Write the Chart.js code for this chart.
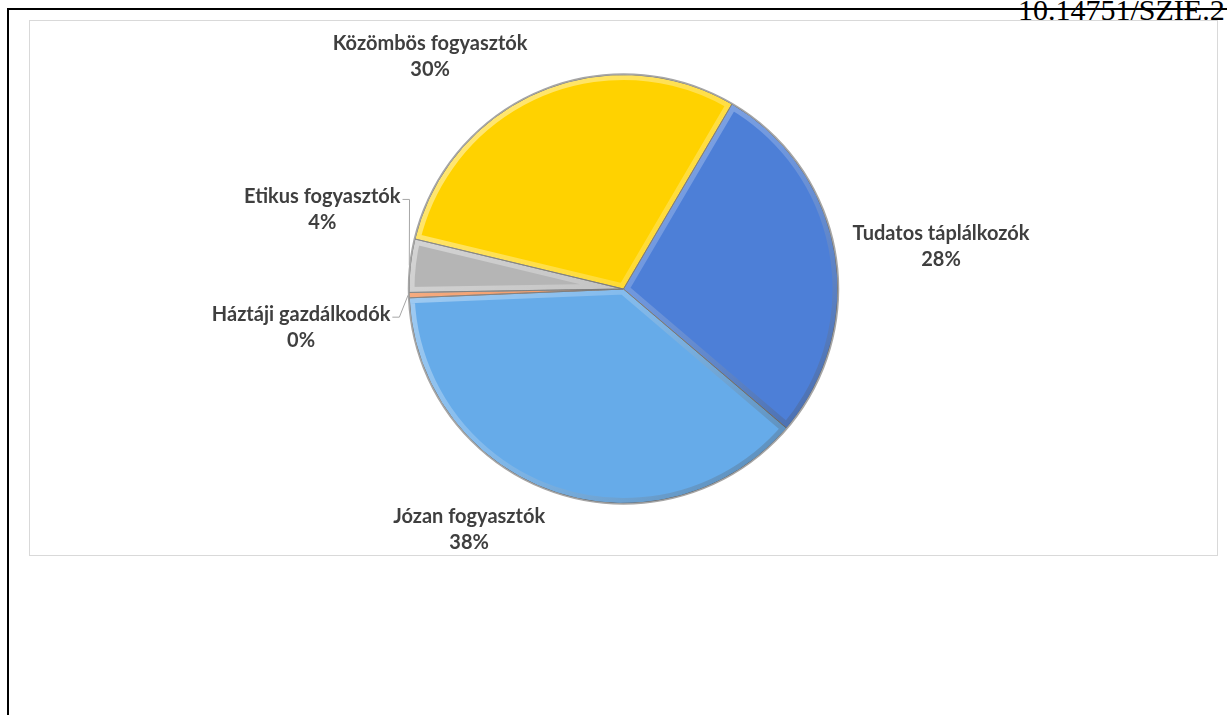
<!DOCTYPE html>
<html lang="hu">
<head>
<meta charset="utf-8">
<title>Fogyasztói csoportok</title>
<script src="https://cdn.jsdelivr.net/npm/chart.js@4.4.1/dist/chart.umd.min.js"></script>
<style>
  html, body { margin: 0; padding: 0; background: #fff; width: 1227px; height: 715px; overflow: hidden; }
  .keret { position: absolute; left: 7px; top: 8px; width: 1240px; height: 720px; border-top: 2px solid #000; border-left: 2px solid #000; }
  .doi { position: absolute; left: 1018px; top: -5px; font-family: "Liberation Serif", "Times New Roman", serif; font-size: 30px; line-height: 30px; white-space: nowrap; color: #000; }
  .doboz { position: absolute; left: 29px; top: 20px; width: 1189px; height: 536px; box-sizing: border-box; border: 1px solid #d9d9d9; background: #fff; }
  .doboz div { position: relative; width: 100%; height: 100%; }
</style>
</head>
<body>
<div class="keret"></div>
<div class="doi">10.14751/SZIE.2</div>
<div class="doboz"><div><canvas id="kordiagram"></canvas></div></div>
<script>
// fogyasztói szegmensek aránya (%)
const kategoriak = ['Tudatos táplálkozók', 'Józan fogyasztók', 'Háztáji gazdálkodók', 'Etikus fogyasztók', 'Közömbös fogyasztók'];
const aranyok = [27.8, 38.1, 0.4, 4.0, 29.7];

const szinek = ['#4d7fd7', '#66abe9', '#f07a35', '#b5b5b5', '#ffd200'];
// címkék helye a körív széléhez képest, és hogy kell-e vezetővonal
const cimkeEltolas = [[105, -7], [-84, 37], [-107, 32], [-87, -56], [-109, -34]];
const vezetovonal = [false, false, true, true, false];

const osszeg = aranyok.reduce((a, b) => a + b, 0);

// domború (bevel) hatás a szeletek szélén
const domborPlugin = {
  id: 'dombor',
  afterDatasetsDraw(chart) {
    const ctx = chart.ctx;
    let kx = 0, ky = 0, kr = 0;
    chart.getDatasetMeta(0).data.forEach(arc => {
      const p = arc.getProps(['x', 'y', 'startAngle', 'endAngle', 'outerRadius'], true);
      kx = p.x; ky = p.y; kr = p.outerRadius;
      ctx.save();
      ctx.beginPath();
      ctx.moveTo(p.x, p.y);
      ctx.arc(p.x, p.y, p.outerRadius, p.startAngle, p.endAngle);
      ctx.closePath();
      ctx.clip();
      const g = ctx.createLinearGradient(p.x - p.outerRadius, p.y - p.outerRadius, p.x + p.outerRadius, p.y + p.outerRadius);
      g.addColorStop(0, 'rgba(255,255,255,0.55)');
      g.addColorStop(0.5, 'rgba(255,255,255,0.2)');
      g.addColorStop(1, 'rgba(0,0,0,0.28)');
      ctx.lineWidth = 11;
      ctx.strokeStyle = g;
      ctx.stroke();
      ctx.lineWidth = 1;
      ctx.strokeStyle = 'rgba(90,90,90,0.7)';
      ctx.stroke();
      ctx.restore();
    });
    // külső perem
    ctx.save();
    ctx.beginPath();
    ctx.arc(kx, ky, kr + 0.5, 0, Math.PI * 2);
    ctx.lineWidth = 1.5;
    ctx.strokeStyle = '#a6a6a6';
    ctx.stroke();
    ctx.restore();
  }
};

// kategórianév + százalék a szeletek mellett
const cimkePlugin = {
  id: 'cimkek',
  afterDraw(chart) {
    const ctx = chart.ctx;
    ctx.save();
    ctx.font = 'bold 20px Lato';
    ctx.fillStyle = '#3f3f3f';
    ctx.textAlign = 'center';
    ctx.textBaseline = 'middle';
    chart.getDatasetMeta(0).data.forEach((arc, i) => {
      const p = arc.getProps(['x', 'y', 'startAngle', 'endAngle', 'outerRadius'], true);
      const kozep = (p.startAngle + p.endAngle) / 2;
      const ex = p.x + Math.cos(kozep) * (p.outerRadius + 1);
      const ey = p.y + Math.sin(kozep) * (p.outerRadius + 1);
      const cx = ex + cimkeEltolas[i][0];
      const cy = ey + cimkeEltolas[i][1];
      const nev = kategoriak[i];
      const szazalek = Math.round(aranyok[i] / osszeg * 100) + '%';
      ctx.fillText(nev, cx, cy - 13);
      ctx.fillText(szazalek, cx, cy + 13);
      if (vezetovonal[i]) {
        const jobb = cx + ctx.measureText(nev).width / 2;
        ctx.beginPath();
        ctx.moveTo(jobb + 2, cy - 10);
        ctx.lineTo(jobb + 9, cy - 10);
        ctx.lineTo(ex, ey);
        ctx.lineWidth = 1;
        ctx.strokeStyle = '#a6a6a6';
        ctx.stroke();
      }
    });
    ctx.restore();
  }
};

const ctx = document.getElementById('kordiagram').getContext('2d');
new Chart(ctx, {
  type: 'pie',
  data: {
    labels: kategoriak,
    datasets: [{
      data: aranyok,
      backgroundColor: szinek,
      borderColor: '#8a8a8a',
      borderWidth: 1
    }]
  },
  options: {
    responsive: true,
    maintainAspectRatio: false,
    animation: false,
    rotation: 30.4,
    layout: { padding: { top: 53, bottom: 51, left: 0, right: 0 } },
    plugins: {
      legend: { display: false },
      tooltip: { enabled: false }
    }
  },
  plugins: [domborPlugin, cimkePlugin]
});
</script>
</body>
</html>
